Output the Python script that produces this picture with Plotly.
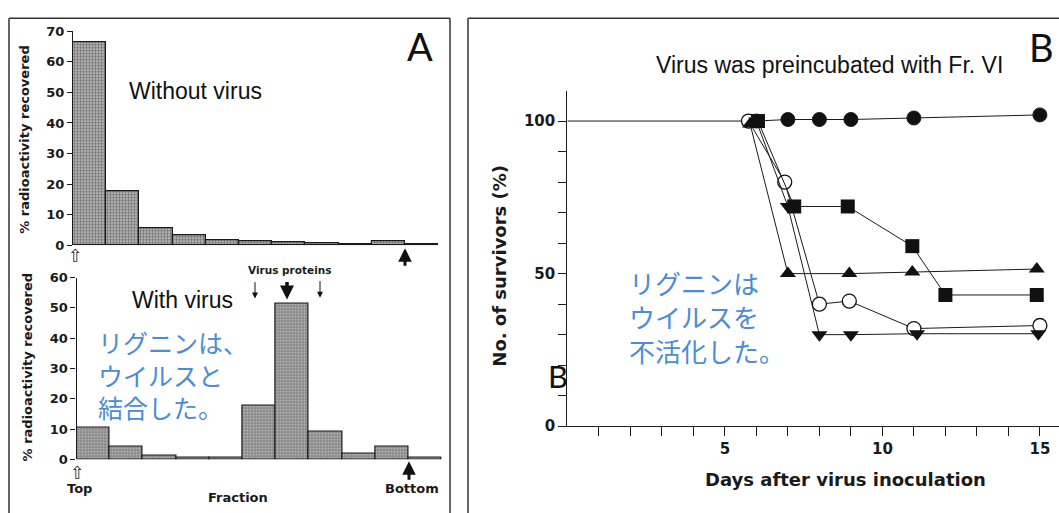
import plotly.graph_objects as go

W, H = 1059, 513

# ---- Panel A: radioactivity per gradient fraction ----
fractions = list(range(1, 12))
without_virus = [66.5, 17.7, 5.5, 3.4, 1.7, 1.5, 1.0, 0.8, 0.5, 1.4, 0.4]
with_virus = [10.4, 4.1, 1.2, 0.6, 0.6, 17.7, 51.4, 9.2, 2.0, 4.3, 0.5]
a_top_ticks = [0, 10, 20, 30, 40, 50, 60, 70]
a_bot_ticks = [0, 10, 20, 30, 40, 50, 60]

# ---- Panel B: survival after virus inoculation ----
day_ticks = list(range(1, 16))
day_labels = ["5", "10", "15"]
surv_ticks = [0, 10, 20, 30, 40, 50, 60, 70, 80, 90, 100]
surv_labels = ["0", "50", "100"]

fr6_days = [0, 6, 7, 8, 9, 11, 15]
fr6_surv = [100, 100, 100.5, 100.5, 100.5, 101, 102]
open_days = [5.75, 6.9, 8, 8.95, 11, 15]
open_surv = [100, 80, 40, 41, 32, 33]
square_days = [6.05, 7.2, 8.9, 10.95, 12, 14.9]
square_surv = [100, 72, 72, 59, 43, 43]
up_days = [5.8, 7, 8.95, 10.95, 14.9]
up_surv = [99, 50, 50, 50.5, 51.5]
down_days = [6, 7, 8, 9, 11.1, 14.95]
down_surv = [100, 72, 30, 30, 30.3, 30.3]


def fx(px):
    return px / W


def fy(py):
    return 1 - py / H


BAR_W = 33.2
scan_font = dict(family="DejaVu Sans", size=13, color="#1a1a1a", weight="bold")
pattern = dict(shape=".", fgcolor="#1e1e1e", bgcolor="#c4c4c4", size=3, solidity=0.5)

fig = go.Figure()

fig.add_trace(go.Bar(
    x=fractions, y=without_virus, width=1, xaxis="x", yaxis="y",
    marker=dict(color="#c4c4c4", pattern=pattern, line=dict(color="#1a1a1a", width=1.2)),
    showlegend=False, hoverinfo="skip",
))
fig.add_trace(go.Bar(
    x=fractions, y=with_virus, width=1, xaxis="x2", yaxis="y2",
    marker=dict(color="#c4c4c4", pattern=pattern, line=dict(color="#1a1a1a", width=1.2)),
    showlegend=False, hoverinfo="skip",
))

line_style = dict(color="#1a1a1a", width=1)
fig.add_trace(go.Scatter(
    x=fr6_days, y=fr6_surv, xaxis="x3", yaxis="y3", mode="lines+markers",
    line=line_style, cliponaxis=False,
    marker=dict(symbol="circle", size=[0] + [14] * 6, color="#111", opacity=1),
    showlegend=False,
))
fig.add_trace(go.Scatter(
    x=open_days, y=open_surv, xaxis="x3", yaxis="y3", mode="lines+markers",
    line=line_style, cliponaxis=False,
    marker=dict(symbol="circle", size=14, color="white", opacity=1, line=dict(color="#111", width=1.3)),
    showlegend=False,
))
fig.add_trace(go.Scatter(
    x=down_days, y=down_surv, xaxis="x3", yaxis="y3", mode="lines+markers",
    line=line_style, cliponaxis=False,
    marker=dict(symbol="triangle-down", size=14, color="#111", opacity=1),
    showlegend=False,
))
fig.add_trace(go.Scatter(
    x=up_days, y=up_surv, xaxis="x3", yaxis="y3", mode="lines+markers",
    line=line_style, cliponaxis=False,
    marker=dict(symbol="triangle-up", size=14, color="#111", opacity=1),
    showlegend=False,
))
fig.add_trace(go.Scatter(
    x=square_days, y=square_surv, xaxis="x3", yaxis="y3", mode="lines+markers",
    line=line_style, cliponaxis=False,
    marker=dict(symbol="square", size=14, color="#111", opacity=1),
    showlegend=False,
))

hidden_x = dict(showline=False, showgrid=False, zeroline=False, showticklabels=False,
                ticks="", range=[0.5, 11.5], fixedrange=True)
a_y = dict(showline=True, linecolor="#1a1a1a", linewidth=1.2, showgrid=False, zeroline=False,
           ticks="outside", ticklen=5, tickcolor="#1a1a1a", tickfont=scan_font, fixedrange=True)

fig.update_layout(
    width=W, height=H,
    margin=dict(l=0, r=0, t=0, b=0),
    paper_bgcolor="white", plot_bgcolor="rgba(0,0,0,0)",
    bargap=0,
    xaxis=dict(hidden_x, domain=[fx(73), fx(73 + 11 * BAR_W)], anchor="y"),
    yaxis=dict(a_y, domain=[fy(246), fy(25)], range=[0, 70], tickvals=a_top_ticks, anchor="x"),
    xaxis2=dict(hidden_x, domain=[fx(76.5), fx(76.5 + 11 * BAR_W)], anchor="y2"),
    yaxis2=dict(a_y, domain=[fy(467), fy(279.3)], range=[0, 60], tickvals=a_bot_ticks, anchor="x2"),
    xaxis3=dict(
        domain=[fx(567.4), 1.0], range=[0, (W - 567.4) / 31.5], anchor="y3",
        showline=True, linecolor="#1a1a1a", linewidth=1.4, showgrid=False, zeroline=False,
        ticks="outside", ticklen=9, tickcolor="#1a1a1a",
        tickvals=day_ticks,
        ticktext=[str(d) if str(d) in day_labels else "" for d in day_ticks],
        tickfont=dict(scan_font, size=15), fixedrange=True,
    ),
    yaxis3=dict(
        domain=[fy(432.7), fy(86.2)], range=[0, 110], anchor="x3",
        showline=True, linecolor="#1a1a1a", linewidth=1.4, showgrid=False, zeroline=False,
        ticks="outside", ticklen=8, tickcolor="#1a1a1a",
        tickvals=surv_ticks,
        ticktext=[str(v) if str(v) in surv_labels else "" for v in surv_ticks],
        tickfont=dict(scan_font, size=15), fixedrange=True,
    ),
)

# panel frames
frame = dict(color="#333", width=1.5)
fig.add_shape(type="line", xref="paper", yref="paper", x0=fx(9), x1=fx(9), y0=-0.05, y1=fy(11.5), line=frame)
fig.add_shape(type="line", xref="paper", yref="paper", x0=fx(450), x1=fx(450), y0=-0.05, y1=fy(11.5), line=frame)
fig.add_shape(type="line", xref="paper", yref="paper", x0=fx(9), x1=fx(450), y0=fy(11.5), y1=fy(11.5), line=frame)
fig.add_shape(type="line", xref="paper", yref="paper", x0=fx(468), x1=fx(468), y0=-0.05, y1=fy(11.5), line=frame)
fig.add_shape(type="line", xref="paper", yref="paper", x0=fx(468), x1=1.05, y0=fy(11.5), y1=fy(11.5), line=frame)


def label(text, px, py, font, xanchor="center", yanchor="middle", angle=0, align="center"):
    fig.add_annotation(text=text, x=fx(px), y=fy(py), xref="paper", yref="paper",
                       showarrow=False, xanchor=xanchor, yanchor=yanchor, textangle=angle,
                       align=align, font=font)


def arrow(px, py_head, py_tail, width, head_size=1.0):
    fig.add_annotation(text="", x=fx(px), y=fy(py_head), xref="paper", yref="paper",
                       ax=0, ay=py_tail - py_head, axref="pixel", ayref="pixel",
                       showarrow=True, arrowhead=2, arrowsize=head_size, arrowwidth=width,
                       arrowcolor="#111")


plain = dict(family="Liberation Sans", size=23, color="#111")
big_letter = dict(family="Lato", size=38, color="#111")
blue_jp = dict(family="Noto Sans CJK JP", size=25, color="#4a8cd6")

# Panel A texts
label("A", 420, 40, big_letter)
label("Without virus", 127, 87, plain, xanchor="left")
label("With virus", 130, 302, plain, xanchor="left")
label("% radioactivity recovered", 25, 137, scan_font, angle=-90)
label("% radioactivity recovered", 27, 372, scan_font, angle=-90)
label("Virus proteins", 289, 271, dict(scan_font, size=10.5))
label("Top", 79, 497, scan_font)
label("Bottom", 412, 497, scan_font)
label("Fraction", 238, 506, scan_font)
label("⇧", 75, 256, dict(family="DejaVu Sans", size=18, color="#333"))
label("⇧", 77, 480, dict(family="DejaVu Sans", size=18, color="#333"))
arrow(405, 249, 268, 3, 0.9)
arrow(409, 469, 489, 3, 0.9)
arrow(255, 301, 283, 1, 1.2)
arrow(287, 302, 283, 3.5, 0.8)
arrow(320, 300, 282, 1, 1.2)
label("リグニンは、<br>ウイルスと<br>結合した。", 96, 379, blue_jp, xanchor="left", align="left")

# Panel B texts
label("Virus was preincubated with Fr. VI", 829, 60, plain)
label("B", 1041, 41, big_letter)
label("B", 558, 381, dict(big_letter, size=31))
label("No. of survivors (%)", 500, 267, dict(scan_font, size=18), angle=-90)
label("Days after virus inoculation", 845, 488, dict(scan_font, size=18))
label("リグニンは<br>ウイルスを<br>不活化した。", 627, 319, dict(blue_jp, size=26), xanchor="left", align="left")

fig.write_html("out.html")
